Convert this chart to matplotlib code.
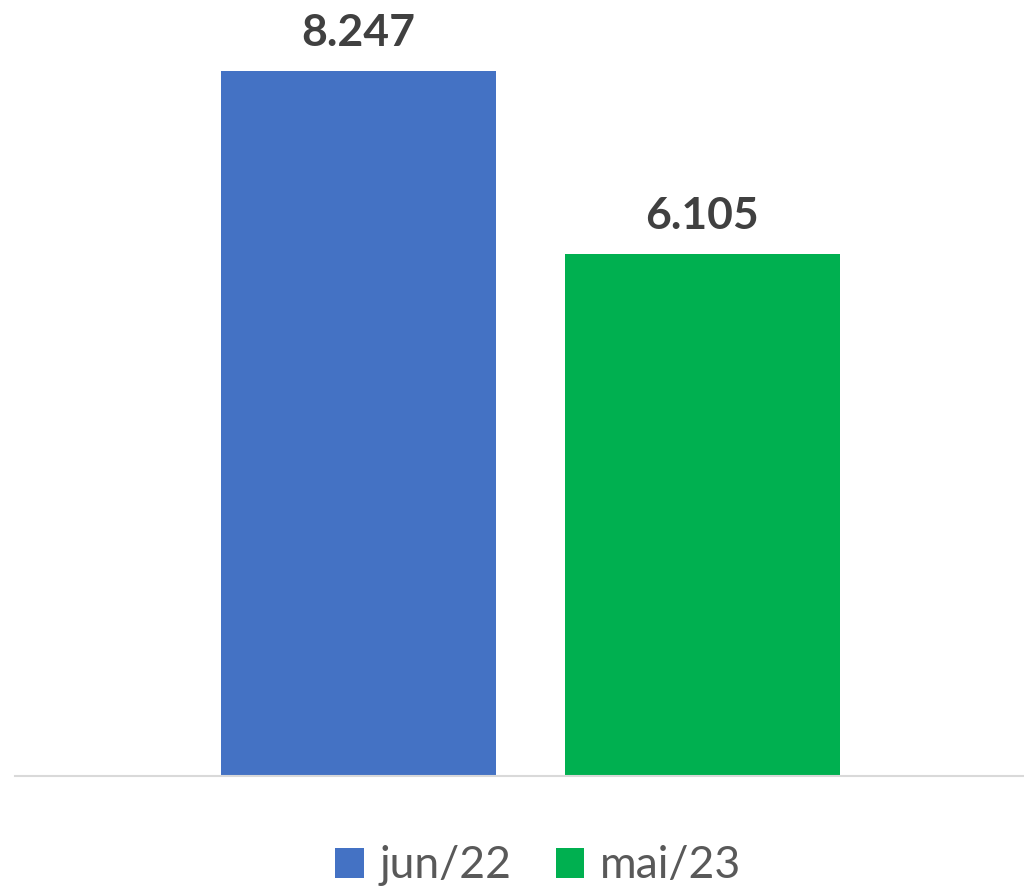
import matplotlib
matplotlib.use("Agg")
import matplotlib.pyplot as plt
from matplotlib.patches import Patch

series = ["jun/22", "mai/23"]
values = [8247, 6105]
labels = ["8.247", "6.105"]
colors = ["#4472C4", "#00B050"]

W, H = 1024, 889
fig = plt.figure(figsize=(W / 100, H / 100), dpi=100)
ax = fig.add_axes([15 / W, 1 - 776 / H, (W - 15) / W, 776 / H])

pos = [0, 1]
bars = ax.bar(pos, values, width=0.8, color=colors, zorder=2)
ax.set_xlim(-1, 1.937)
ax.set_ylim(0, values[0] * 776 / 705)

for b, lab in zip(bars, labels):
    ax.annotate(lab, (b.get_x() + b.get_width() / 2, b.get_height()),
                xytext=(0, 18), textcoords="offset points", ha="center", va="baseline",
                fontsize=32, fontweight="bold", color="#404040", family="Lato")

for s in ["top", "right", "left"]:
    ax.spines[s].set_visible(False)
ax.spines["bottom"].set_color("#D9D9D9")
ax.spines["bottom"].set_linewidth(1.5)
ax.set_xticks([])
ax.set_yticks([])

handles = [Patch(facecolor=c, label=s) for c, s in zip(colors, series)]
leg = fig.legend(handles=handles, loc="center", bbox_to_anchor=(538 / W, 1 - 866 / H),
                 ncol=2, frameon=False, handlelength=0.65, handleheight=0.65,
                 handletextpad=0.35, columnspacing=1.0, prop={"family": "Lato", "size": 32})
for t in leg.get_texts():
    t.set_color("#595959")

fig.savefig("out.png", dpi=100)
